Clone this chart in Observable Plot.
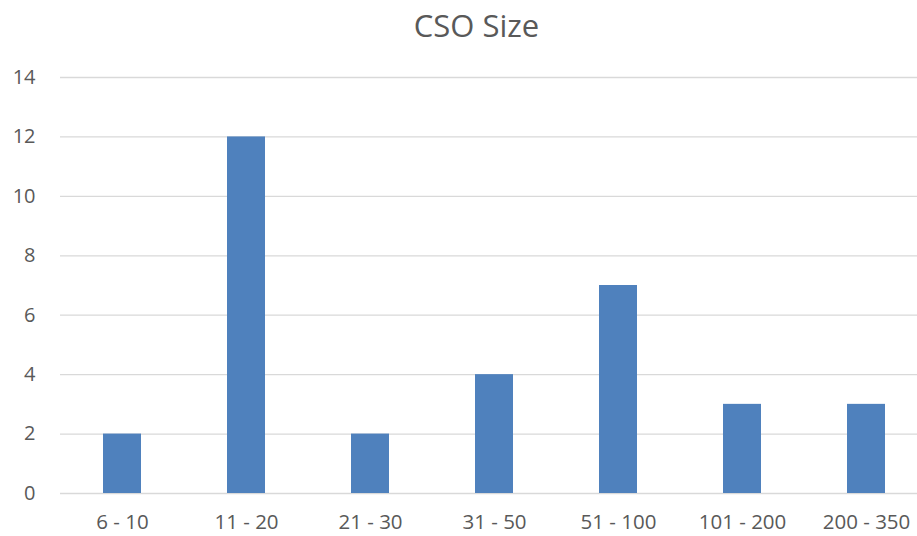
<!DOCTYPE html>
<html>
<head>
<meta charset="utf-8">
<script src="https://cdn.jsdelivr.net/npm/d3@7"></script>
<script src="https://cdn.jsdelivr.net/npm/@observablehq/plot@0.6"></script>
<style>
  html, body { margin: 0; padding: 0; background: #fff; }
  #title { height: 50px; line-height: 50px; text-align: center; font-family: "Open Sans", sans-serif; font-size: 31px; color: #595959; padding-left: 36px; box-sizing: border-box; width: 917px; }
  #chart svg { display: block; }
</style>
</head>
<body>
<div id="title">CSO Size</div>
<div id="chart"></div>
<script>
const categories = ["6 - 10", "11 - 20", "21 - 30", "31 - 50", "51 - 100", "101 - 200", "200 - 350"];
const counts = [2, 12, 2, 4, 7, 3, 3];
const yTicks = [0, 2, 4, 6, 8, 10, 12, 14];

const data = categories.map((c, i) => ({category: c, count: counts[i]}));

const chart = Plot.plot({
  width: 917,
  height: 486,
  marginTop: 27,
  marginBottom: 43,
  marginLeft: 60,
  marginRight: -11,
  style: {fontFamily: "'Open Sans', sans-serif", fontSize: "20px", color: "#595959", background: "#fff"},
  x: {domain: categories, paddingInner: 0.69, paddingOuter: 0.345, label: null},
  y: {domain: [0, 14], label: null},
  marks: [
    Plot.gridY(yTicks, {stroke: "#d9d9d9", strokeOpacity: 1, strokeWidth: 1.3}),
    Plot.barY(data, {x: "category", y: "count", fill: "#4f81bd"}),
    Plot.axisY(yTicks, {tickSize: 0, tickPadding: 25, fill: "#595959", fontSize: 20}),
    Plot.axisX({tickSize: 0, tickPadding: 21, fill: "#595959", fontSize: 20.5})
  ]
});
document.getElementById("chart").appendChild(chart);
</script>
</body>
</html>
